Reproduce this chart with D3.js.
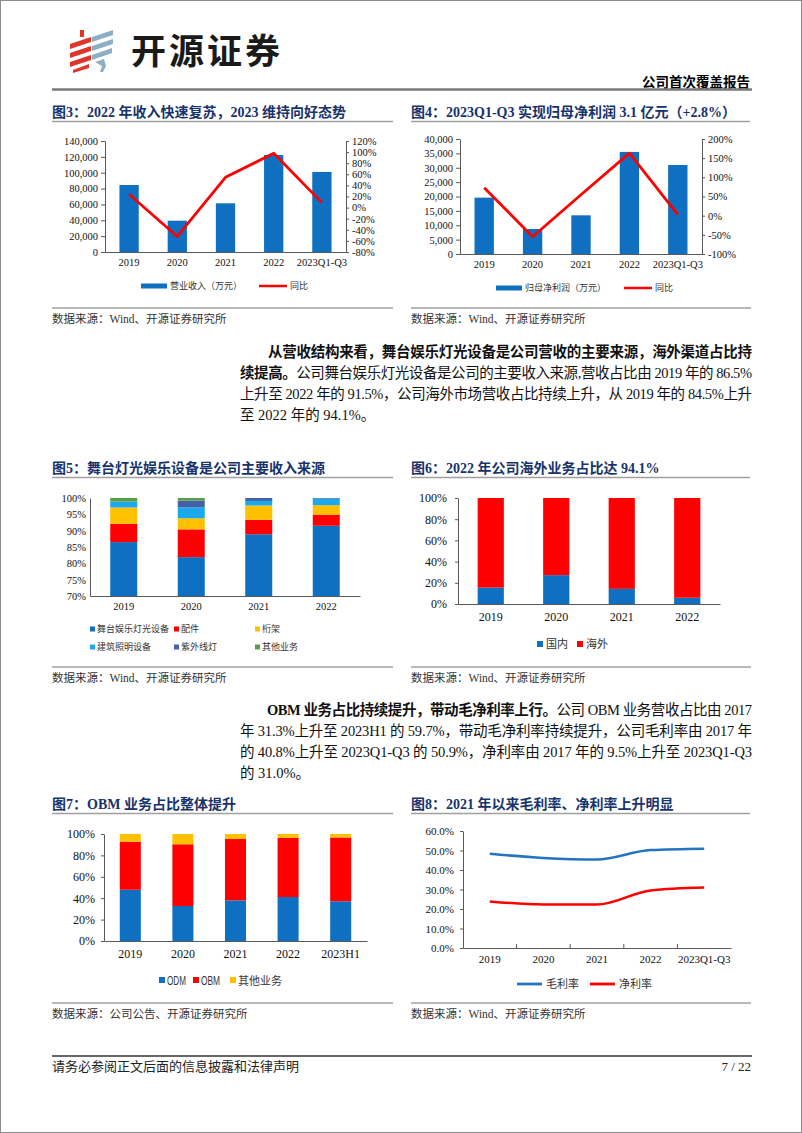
<!DOCTYPE html>
<html>
<head>
<meta charset="utf-8">
<script src="https://cdn.jsdelivr.net/npm/d3@7/dist/d3.min.js"></script>
<style>
body { margin: 0; background: #fff; }
svg { display: block; }
text { font-family: "Liberation Serif", "Noto Sans CJK SC", serif; }
</style>
</head>
<body>
<svg id="page" width="802" height="1133"></svg>
<script>

// ---- data ----
const years5 = ["2019", "2020", "2021", "2022", "2023Q1-Q3"];
const years4 = ["2019", "2020", "2021", "2022"];
const years7 = ["2019", "2020", "2021", "2022", "2023H1"];

// fig 3 : revenue (10k yuan) + yoy
const revenue = [84500, 39500, 61400, 122300, 101000];
const revenueYoY = [0.24, -0.52, 0.545, 0.98, 0.09];
const revLeftTicks = [0, 20000, 40000, 60000, 80000, 100000, 120000, 140000];
const revRightTicks = [-0.8, -0.6, -0.4, -0.2, 0, 0.2, 0.4, 0.6, 0.8, 1.0, 1.2];

// fig 4 : net profit attributable (10k yuan) + yoy
const netProfit = [19600, 8700, 13450, 35500, 30950];
const netProfitYoY = [0.73, -0.55, 0.545, 1.63, 0.028];
const npLeftTicks = [0, 5000, 10000, 15000, 20000, 25000, 30000, 35000, 40000];
const npRightTicks = [-1, -0.5, 0, 0.5, 1, 1.5, 2];

// fig 5 : revenue mix by product (%)
const productKeys = ["舞台娱乐灯光设备", "配件", "桁架", "建筑照明设备", "紫外线灯", "其他业务"];
const stageLight = [86.5, 81.9, 88.9, 91.5];
const parts = [5.6, 8.5, 4.4, 3.4];
const truss = [5.0, 3.4, 4.4, 2.9];
const archLight = [1.8, 3.3, 1.4, 2.0];
const uvLamp = [0.0, 2.1, 0.9, 0.2];
const otherProduct = [1.1, 0.8, 0.0, 0.0];
const mixTicks = [70, 75, 80, 85, 90, 95, 100];

// fig 6 : domestic / overseas (%)
const regionKeys = ["国内", "海外"];
const domestic = [15.5, 27.2, 14.3, 5.9];
const overseas = [84.5, 72.8, 85.7, 94.1];
const pctTicks = [0, 20, 40, 60, 80, 100];

// fig 7 : ODM / OBM (%)
const modelKeys = ["ODM", "OBM", "其他业务"];
const odm = [47.9, 32.7, 38.0, 41.1, 37.1];
const obm = [44.9, 57.7, 57.3, 55.4, 59.7];
const otherModel = [7.2, 9.6, 4.7, 3.5, 3.2];

// fig 8 : margins (%)
const marginKeys = ["毛利率", "净利率"];
const grossMargin = [48.3, 46.2, 45.4, 50.2, 50.9];
const netMargin = [23.9, 22.3, 22.3, 29.5, 31.0];
const marginTicks = [0, 10, 20, 30, 40, 50, 60];

// ---- styles ----
const BLUE = "#0f6fc0", RED = "#ff0000", YELLOW = "#ffc000", CYAN = "#19a9ec",
      NAVY = "#4262a8", GREEN = "#5a9e4b", LBLUE = "#2474c0";
const AXIS = "#595959", TITLE = "#17336b", GRAY = "#a0a0a0";

const svg = d3.select("#page");
svg.append("rect").attr("x", 0.5).attr("y", 0.5).attr("width", 801).attr("height", 1132)
  .attr("fill", "#fff").attr("stroke", "#8c8c8c");

// ---- header ----
const logo = svg.append("g");
const redBars = ["M80,30 L84,30 L84,37 L80,37 Z",
  "M70,44 L91,37 L91,42 L70,49 Z", "M70,53 L91,46 L91,51 L70,58 Z",
  "M70,62 L91,55 L91,60 L70,67 Z", "M73,70 L89,64 L89,68 L73,73 Z"];
const blueBars = ["M92,37 L113,30 L113,35 L92,42 Z", "M92,46 L113,39 L113,44 L92,51 Z",
  "M92,55 L112,48 L112,53 L92,60 Z", "M95,62 L104,59 L106,66 L103,72 L100,72 L102,66 Z"];
logo.selectAll("path.r").data(redBars).join("path").attr("d", d => d).attr("fill", "#e0352b");
logo.selectAll("path.b").data(blueBars).join("path").attr("d", d => d).attr("fill", "#8eaec4");
svg.append("text").attr("x", 131).attr("y", 64).attr("font-size", 35).attr("font-weight", "bold")
  .attr("letter-spacing", 3).style("font-family", "'Noto Sans CJK SC'").attr("fill", "#1a1a1a").text("开源证券");
svg.append("text").attr("x", 750).attr("y", 87).attr("text-anchor", "end").attr("font-size", 13.5)
  .attr("font-weight", "bold").text("公司首次覆盖报告");
svg.append("line").attr("x1", 52).attr("x2", 752).attr("y1", 89.5).attr("y2", 89.5)
  .attr("stroke", "#7a7a7a").attr("stroke-width", 2.5);

// ---- helpers ----
function figTitle(x, x2, y, txt) {
  svg.append("text").attr("x", x).attr("y", y).attr("font-size", 14).attr("font-weight", "bold")
    .attr("fill", TITLE).text(txt);
  svg.append("line").attr("x1", x).attr("x2", x2).attr("y1", y + 4.5).attr("y2", y + 4.5)
    .attr("stroke", GRAY).attr("stroke-width", 1.5);
}
function source(x, x2, y, txt) {
  svg.append("line").attr("x1", x).attr("x2", x2).attr("y1", y).attr("y2", y)
    .attr("stroke", GRAY).attr("stroke-width", 1.5);
  svg.append("text").attr("x", x).attr("y", y + 15).attr("font-size", 11.5).attr("fill", "#333").text(txt);
}
function styleAxis(g, fs) {
  g.select(".domain").attr("stroke", AXIS);
  g.selectAll(".tick line").attr("stroke", AXIS);
  g.selectAll(".tick text").attr("font-size", fs).attr("fill", "#111")
    .style("font-family", "'Liberation Serif', serif");
}
const pctFmt = d => Math.round(d * 100) + "%";

function comboChart(o) {
  const g = svg.append("g");
  const x = d3.scaleBand().domain(o.cats).range([o.x0, o.x1]).paddingInner(0.6).paddingOuter(0.3);
  const yL = d3.scaleLinear().domain(d3.extent(o.leftTicks)).range([o.yB, o.yT]);
  const yR = d3.scaleLinear().domain(d3.extent(o.rightTicks)).range([o.yB, o.yT]);
  g.selectAll("rect").data(o.bars).join("rect")
    .attr("x", (d, i) => x(o.cats[i])).attr("width", x.bandwidth())
    .attr("y", d => yL(d)).attr("height", d => yL(0) - yL(d)).attr("fill", BLUE);
  const aL = g.append("g").attr("transform", `translate(${o.x0},0)`)
    .call(d3.axisLeft(yL).tickValues(o.leftTicks).tickFormat(d3.format(",")).tickSize(4).tickPadding(3).tickSizeOuter(0));
  styleAxis(aL, 10.5);
  const aR = g.append("g").attr("transform", `translate(${o.x1},0)`)
    .call(d3.axisRight(yR).tickValues(o.rightTicks).tickFormat(pctFmt).tickSize(3).tickPadding(3).tickSizeOuter(0));
  styleAxis(aR, 10.5);
  const aB = g.append("g").attr("transform", `translate(0,${o.yB})`)
    .call(d3.axisBottom(x).tickSize(0).tickPadding(7).tickSizeOuter(0));
  styleAxis(aB, 10.5);
  const line = d3.line().x((d, i) => x(o.cats[i]) + x.bandwidth() / 2).y(d => yR(d));
  g.append("path").datum(o.line).attr("d", line).attr("fill", "none")
    .attr("stroke", RED).attr("stroke-width", 2.8).attr("stroke-linejoin", "round");
  // legend
  const lg = o.legend;
  g.append("rect").attr("x", lg.bx).attr("y", lg.y - 2.5).attr("width", 26).attr("height", 5).attr("fill", BLUE);
  g.append("text").attr("x", lg.bx + 29).attr("y", lg.y + 3.2).attr("font-size", 9).attr("fill", "#333").text(lg.barName);
  g.append("line").attr("x1", lg.rx).attr("x2", lg.rx + 28).attr("y1", lg.y).attr("y2", lg.y)
    .attr("stroke", RED).attr("stroke-width", 2.5);
  g.append("text").attr("x", lg.rx + 31).attr("y", lg.y + 3.2).attr("font-size", 9).attr("fill", "#333").text("同比");
}

function stackedChart(o) {
  const g = svg.append("g");
  const rows = o.cats.map((c, i) => {
    const r = { cat: c };
    o.keys.forEach((k, j) => { r[k] = o.series[j][i]; });
    return r;
  });
  const stacked = d3.stack().keys(o.keys)(rows);
  const x = d3.scaleBand().domain(o.cats).range([o.x0, o.x1]).paddingInner(0.6).paddingOuter(0.3);
  const y = d3.scaleLinear().domain(d3.extent(o.ticks)).range([o.yB, o.yT]).clamp(true);
  g.selectAll("g.layer").data(stacked).join("g").attr("fill", (d, i) => o.colors[i])
    .selectAll("rect").data(d => d).join("rect")
    .attr("x", d => x(d.data.cat)).attr("width", x.bandwidth())
    .attr("y", d => y(d[1])).attr("height", d => Math.max(0, y(d[0]) - y(d[1])));
  const aL = g.append("g").attr("transform", `translate(${o.x0},0)`)
    .call(d3.axisLeft(y).tickValues(o.ticks).tickFormat(d => d + "%").tickSize(o.tick).tickPadding(o.pad).tickSizeOuter(0));
  styleAxis(aL, o.fs);
  const aB = g.append("g").attr("transform", `translate(0,${o.yB})`)
    .call(d3.axisBottom(x).tickSize(0).tickPadding(o.xpad).tickSizeOuter(0));
  styleAxis(aB, o.fs);
  return g;
}

// ---- fig 3 / fig 4 ----
figTitle(52, 393, 117, "图3：2022 年收入快速复苏，2023 维持向好态势");
figTitle(411, 750, 117, "图4：2023Q1-Q3 实现归母净利润 3.1 亿元（+2.8%）");

comboChart({ cats: years5, bars: revenue, line: revenueYoY, leftTicks: revLeftTicks, rightTicks: revRightTicks,
  x0: 105, x1: 346, yT: 141, yB: 252,
  legend: { y: 286, bx: 141, rx: 259, barName: "营业收入（万元）" } });
comboChart({ cats: years5, bars: netProfit, line: netProfitYoY, leftTicks: npLeftTicks, rightTicks: npRightTicks,
  x0: 460, x1: 702, yT: 139, yB: 254,
  legend: { y: 288, bx: 496, rx: 624, barName: "归母净利润（万元）" } });

source(52, 393, 308, "数据来源：Wind、开源证券研究所");
source(411, 751, 308, "数据来源：Wind、开源证券研究所");

// ---- paragraphs ----
function para(lines, y0) {
  lines.forEach((ln, i) => {
    const t = svg.append("text").attr("x", ln.x).attr("y", y0 + i * 21).attr("font-size", 14.5).attr("fill", "#111");
    if (ln.fit) t.attr("textLength", 752 - ln.x).attr("lengthAdjust", "spacing");
    ln.parts.forEach(p => t.append("tspan").attr("font-weight", p[1] ? "bold" : "normal").text(p[0]));
  });
}
para([
  { x: 268, fit: true, parts: [["从营收结构来看，舞台娱乐灯光设备是公司营收的主要来源，海外渠道占比持", 1]] },
  { x: 240, fit: true, parts: [["续提高。", 1], ["公司舞台娱乐灯光设备是公司的主要收入来源,营收占比由 2019 年的 86.5%", 0]] },
  { x: 240, fit: true, parts: [["上升至 2022 年的 91.5%，公司海外市场营收占比持续上升，从 2019 年的 84.5%上升", 0]] },
  { x: 240, fit: false, parts: [["至 2022 年的 94.1%。", 0]] }
], 357);

// ---- fig 5 / fig 6 ----
figTitle(52, 393, 473, "图5：舞台灯光娱乐设备是公司主要收入来源");
figTitle(411, 750, 473, "图6：2022 年公司海外业务占比达 94.1%");

const mixColors = [BLUE, RED, YELLOW, CYAN, NAVY, GREEN];
stackedChart({ cats: years4, keys: productKeys,
  series: [stageLight, parts, truss, archLight, uvLamp, otherProduct], colors: mixColors,
  ticks: mixTicks, x0: 90, x1: 360, yT: 498, yB: 596, fs: 10.5, tick: 0, pad: 4, xpad: 7 });
const lg5 = svg.append("g");
productKeys.forEach((k, i) => {
  const cx = [90, 174, 255][i % 3], cy = [629, 647][Math.floor(i / 3)];
  lg5.append("rect").attr("x", cx).attr("y", cy - 2.5).attr("width", 5).attr("height", 5).attr("fill", mixColors[i]);
  lg5.append("text").attr("x", cx + 7).attr("y", cy + 3.2).attr("font-size", 9).attr("fill", "#333").text(k);
});

stackedChart({ cats: years4, keys: regionKeys, series: [domestic, overseas], colors: [BLUE, RED],
  ticks: pctTicks, x0: 458, x1: 720, yT: 498, yB: 604, fs: 12, tick: 3, pad: 8, xpad: 8 });
const lg6 = svg.append("g");
regionKeys.forEach((k, i) => {
  const cx = [537, 577][i];
  lg6.append("rect").attr("x", cx).attr("y", 641).attr("width", 6).attr("height", 6).attr("fill", [BLUE, RED][i]);
  lg6.append("text").attr("x", cx + 9).attr("y", 648).attr("font-size", 11).attr("fill", "#333").text(k);
});

source(52, 393, 667, "数据来源：Wind、开源证券研究所");
source(411, 751, 667, "数据来源：Wind、开源证券研究所");

para([
  { x: 267, fit: true, parts: [["OBM 业务占比持续提升，带动毛净利率上行。", 1], ["公司 OBM 业务营收占比由 2017", 0]] },
  { x: 240, fit: true, parts: [["年 31.3%上升至 2023H1 的 59.7%，带动毛净利率持续提升，公司毛利率由 2017 年", 0]] },
  { x: 240, fit: true, parts: [["的 40.8%上升至 2023Q1-Q3 的 50.9%，净利率由 2017 年的 9.5%上升至 2023Q1-Q3", 0]] },
  { x: 240, fit: false, parts: [["的 31.0%。", 0]] }
], 715);

// ---- fig 7 / fig 8 ----
figTitle(52, 393, 809, "图7：OBM 业务占比整体提升");
figTitle(411, 750, 809, "图8：2021 年以来毛利率、净利率上升明显");

stackedChart({ cats: years7, keys: modelKeys, series: [odm, obm, otherModel], colors: [BLUE, RED, YELLOW],
  ticks: pctTicks, x0: 104, x1: 367, yT: 834, yB: 941, fs: 12, tick: 3, pad: 6, xpad: 8 });
const lg7 = svg.append("g");
modelKeys.forEach((k, i) => {
  const cx = [159, 193, 230][i];
  lg7.append("rect").attr("x", cx).attr("y", 977).attr("width", 6).attr("height", 6).attr("fill", [BLUE, RED, YELLOW][i]);
  const t = lg7.append("text").attr("x", cx + 8).attr("y", 984.5).attr("font-size", 11).attr("fill", "#333").text(k);
  if (i < 2) t.style("font-family", "'Liberation Sans', sans-serif").attr("font-size", 12.5)
    .attr("textLength", 19).attr("lengthAdjust", "spacingAndGlyphs");
});

// fig 8 line chart
(function () {
  const g = svg.append("g");
  const x0 = 463, x1 = 731, yT = 831, yB = 948;
  const xb = d3.scaleBand().domain(years5).range([x0, x1]);
  const y = d3.scaleLinear().domain(d3.extent(marginTicks)).range([yB, yT]);
  const aL = g.append("g").attr("transform", `translate(${x0},0)`)
    .call(d3.axisLeft(y).tickValues(marginTicks).tickFormat(d => d.toFixed(1) + "%").tickSize(3).tickPadding(6).tickSizeOuter(0));
  styleAxis(aL, 11);
  const aB = g.append("g").attr("transform", `translate(0,${yB})`)
    .call(d3.axisBottom(xb).tickSize(0).tickPadding(7).tickSizeOuter(0));
  styleAxis(aB, 11);
  g.selectAll("line.sep").data(years5.slice(1)).join("line")
    .attr("x1", d => xb(d)).attr("x2", d => xb(d)).attr("y1", yB - 4).attr("y2", yB)
    .attr("stroke", AXIS);
  const line = d3.line().x((d, i) => xb(years5[i]) + xb.bandwidth() / 2).y(d => y(d)).curve(d3.curveMonotoneX);
  [[grossMargin, LBLUE], [netMargin, RED]].forEach(([vals, c]) => {
    g.append("path").datum(vals).attr("d", line).attr("fill", "none").attr("stroke", c).attr("stroke-width", 2.5);
  });
  marginKeys.forEach((k, i) => {
    const lx = [517, 590][i];
    g.append("line").attr("x1", lx).attr("x2", lx + 25).attr("y1", 984).attr("y2", 984)
      .attr("stroke", [LBLUE, RED][i]).attr("stroke-width", 2.8);
    g.append("text").attr("x", lx + 29).attr("y", 988).attr("font-size", 11).attr("fill", "#333").text(k);
  });
})();

source(52, 393, 1003, "数据来源：公司公告、开源证券研究所");
source(411, 751, 1003, "数据来源：Wind、开源证券研究所");

// ---- footer ----
svg.append("line").attr("x1", 52).attr("x2", 752).attr("y1", 1056).attr("y2", 1056)
  .attr("stroke", "#333").attr("stroke-width", 1.5);
svg.append("text").attr("x", 52).attr("y", 1071).attr("font-size", 13).attr("fill", "#222")
  .text("请务必参阅正文后面的信息披露和法律声明");
svg.append("text").attr("x", 751).attr("y", 1071).attr("text-anchor", "end").attr("font-size", 13)
  .attr("fill", "#222").text("7 / 22");

</script>
</body>
</html>
